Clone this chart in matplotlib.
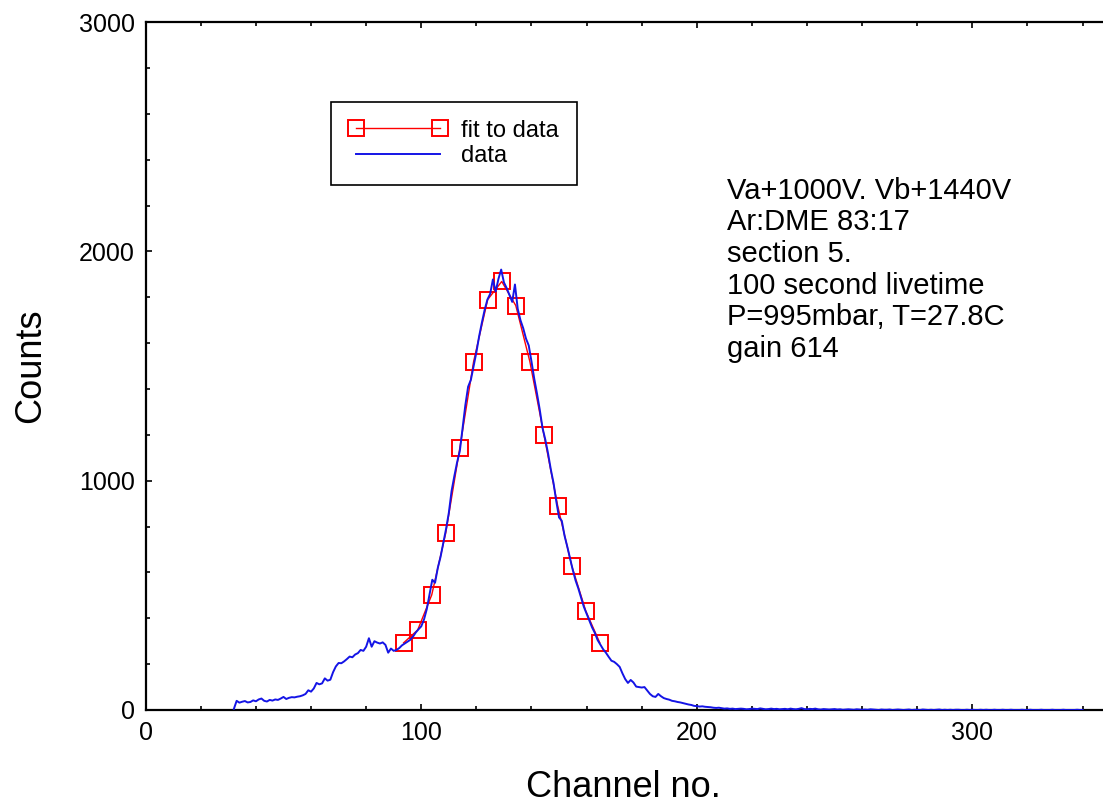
import numpy as np
import matplotlib
matplotlib.use("Agg")
import matplotlib.pyplot as plt
from matplotlib.ticker import MultipleLocator

plt.rcParams['font.family'] = ['Liberation Sans', 'DejaVu Sans']

# measured spectrum, channels 32..210
chan_start = 32
counts_main = [
    5, 40, 32, 36, 39, 33, 35, 42, 38, 46,          # 32-41
    50, 40, 37, 44, 41, 46, 44, 50, 57, 48,         # 42-51
    53, 56, 55, 58, 60, 64, 70, 86, 80, 94,         # 52-61
    118, 112, 116, 138, 128, 132, 165, 190, 205, 204,  # 62-71
    212, 222, 233, 230, 242, 248, 262, 258, 276, 313,  # 72-81
    276, 300, 294, 290, 295, 284, 250, 268, 258, 262,  # 82-91
    270, 282, 290, 298, 306, 320, 338, 352, 365, 395,  # 92-101
    440, 505, 568, 555, 620, 668, 730, 790, 860, 955,  # 102-111
    1020, 1080, 1130, 1230, 1330, 1410, 1440, 1500, 1560, 1630,  # 112-121
    1690, 1745, 1790, 1815, 1878, 1825, 1880, 1921, 1865, 1840,  # 122-131
    1810, 1780, 1856, 1750, 1700, 1665, 1620, 1590, 1520, 1445,  # 132-141
    1380, 1310, 1230, 1180, 1120, 1050, 990, 910, 840, 825,      # 142-151
    760, 712, 660, 610, 565, 530, 490, 450, 420, 390,            # 152-161
    360, 336, 305, 285, 265, 250, 232, 215, 210, 200,            # 162-171
    188, 160, 135, 118, 131, 120, 102, 100, 98, 100,             # 172-181
    85, 70, 60, 57, 70, 60, 52, 48, 45, 40,                      # 182-191
    38, 35, 33, 30, 27, 24, 22, 18, 17, 15,                      # 192-201
    16, 14, 13, 12, 10, 9, 10, 8, 6,                             # 202-210
]
# low tail, channels 211..340
counts_tail = [
    7, 5, 6, 4, 5, 6, 5, 3, 4, 6, 5, 4, 7, 5, 3, 4, 6, 4, 5, 3,
    4, 5, 3, 6, 4, 3, 5, 8, 4, 3, 5, 4, 6, 3, 2, 4, 3, 2, 3, 4,
    2, 3, 1, 2, 3, 2, 1, 3, 2, 1, 2, 1, 3, 2, 1, 0, 2, 1, 1, 2,
    0, 1, 2, 1, 0, 1, 2, 0, 1, 1, 0, 2, 1, 0, 1, 0, 1, 2, 0, 1,
    0, 1, 0, 1, 1, 0, 0, 1, 0, 1, 0, 0, 1, 0, 1, 0, 0, 1, 0, 0,
    1, 0, 0, 1, 0, 0, 0, 1, 0, 0, 1, 0, 0, 0, 1, 0, 0, 0, 1, 0,
    0, 0, 1, 0, 0, 0, 0, 1, 0, 0,
]
counts = np.array(counts_main + counts_tail)
channels = np.arange(chan_start, chan_start + len(counts))

# fit points
fit_chan = [93.6, 98.7, 103.8, 108.9, 114.0, 119.0, 124.1, 129.2,
            134.3, 139.4, 144.5, 149.5, 154.6, 159.7, 164.8]
fit_counts = [293, 349, 502, 773, 1144, 1520, 1790, 1869,
              1764, 1520, 1201, 891, 629, 432, 293]

info_lines = ["Va+1000V. Vb+1440V", "Ar:DME 83:17", "section 5.",
              "100 second livetime", "P=995mbar, T=27.8C", "gain 614"]

fig = plt.figure(figsize=(11.03, 8.07), dpi=100)
ax = fig.add_axes([0.1321, 0.1202, 0.8669, 0.8523])

ax.plot(fit_chan, fit_counts, color='red', lw=1.0, marker='s', ms=11,
        mfc='none', mec='red', mew=1.4, label='fit to data', zorder=2)
ax.plot(channels, counts, color='#1414e6', lw=1.4, label='data', zorder=3)

ax.set_xlim(0, 347)
ax.set_ylim(0, 3000)
ax.xaxis.set_major_locator(MultipleLocator(100))
ax.xaxis.set_minor_locator(MultipleLocator(20))
ax.yaxis.set_major_locator(MultipleLocator(1000))
ax.yaxis.set_minor_locator(MultipleLocator(200))
ax.tick_params(which='both', direction='in', top=True, right=False,
               labelsize=18, width=1.2, pad=8)
ax.tick_params(which='major', length=4.5)
ax.tick_params(which='minor', length=3)
for s in ['left', 'bottom', 'top']:
    ax.spines[s].set_linewidth(1.6)
ax.spines['right'].set_visible(False)

ax.set_xlabel('Channel no.', fontsize=26, labelpad=18)
ax.set_ylabel('Counts', fontsize=26, labelpad=22)

leg = ax.legend(loc='upper left', bbox_to_anchor=(0.194, 0.884), fontsize=17,
                numpoints=2, handlelength=4.15, fancybox=False, framealpha=1,
                edgecolor='black', borderpad=0.75, labelspacing=0.15,
                handletextpad=0.6, borderaxespad=0)
leg.get_frame().set_linewidth(1.2)

ax.text(211, 2325, "\n".join(info_lines), fontsize=21, va='top', ha='left',
        linespacing=1.16)

fig.savefig('out.png', dpi=100)
